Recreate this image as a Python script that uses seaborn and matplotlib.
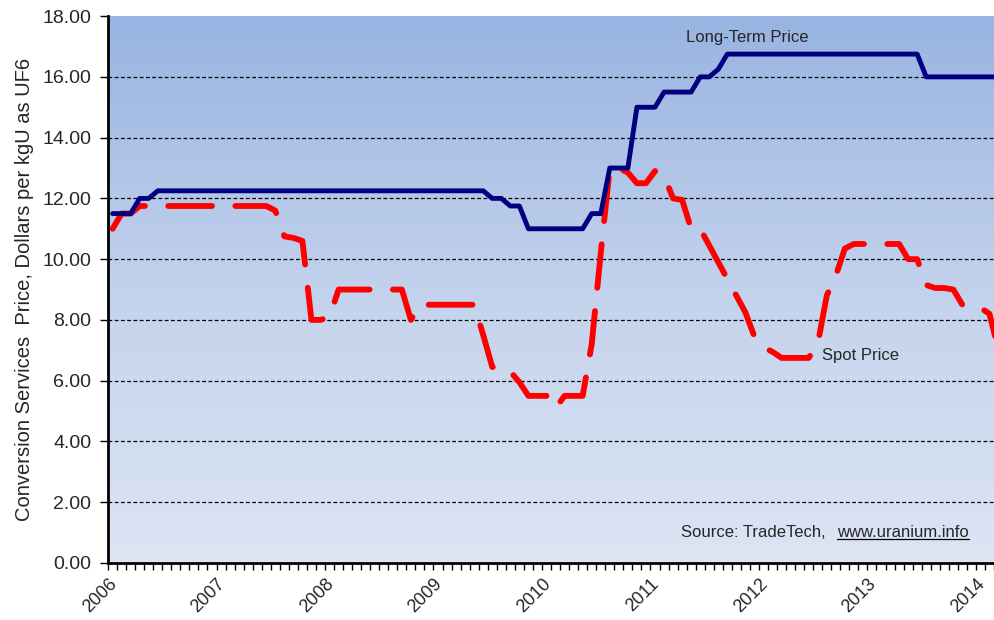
import numpy as np
import pandas as pd
import matplotlib.pyplot as plt
import seaborn as sns

# monthly observations, Jan 2006 .. Mar 2014 (last one runs past the axis edge)
long_term = [11.5, 11.5, 11.5, 12.0, 12.0,
             12.25, 12.25, 12.25, 12.25, 12.25, 12.25, 12.25, 12.25, 12.25, 12.25,
             12.25, 12.25, 12.25, 12.25, 12.25, 12.25, 12.25, 12.25, 12.25, 12.25,
             12.25, 12.25, 12.25, 12.25, 12.25, 12.25, 12.25, 12.25, 12.25, 12.25,
             12.25, 12.25, 12.25, 12.25, 12.25, 12.25, 12.25,
             12.0, 12.0, 11.75, 11.75,
             11.0, 11.0, 11.0, 11.0, 11.0, 11.0, 11.0,
             11.5, 11.5, 13.0, 13.0, 13.0, 15.0, 15.0, 15.0,
             15.5, 15.5, 15.5, 15.5, 16.0, 16.0, 16.25,
             16.75, 16.75, 16.75, 16.75, 16.75, 16.75, 16.75, 16.75, 16.75, 16.75,
             16.75, 16.75, 16.75, 16.75, 16.75, 16.75, 16.75, 16.75, 16.75, 16.75,
             16.75, 16.75,
             16.0, 16.0, 16.0, 16.0, 16.0, 16.0, 16.0, 16.0, 16.0]
spot = [11.0, 11.5, 11.5,
        11.75, 11.75, 11.75, 11.75, 11.75, 11.75, 11.75, 11.75, 11.75, 11.75,
        11.75, 11.75, 11.75, 11.75, 11.75,
        11.6, 10.75, 10.7, 10.6, 8.0, 8.0, 8.1,
        9.0, 9.0, 9.0, 9.0, 9.0, 9.0, 9.0, 9.0,
        8.0, 8.5, 8.5, 8.5, 8.5, 8.5, 8.5, 8.5,
        7.5, 6.45, 6.45, 6.3, 5.95, 5.5, 5.5, 5.5, 5.1, 5.5, 5.5, 5.5,
        7.2, 10.2, 13.0, 13.0, 12.85, 12.5, 12.5, 12.9, 12.75, 12.0, 11.95,
        11.0, 11.0, 10.45, 9.9, 9.35, 8.8, 8.25, 7.45, 7.1, 6.95,
        6.75, 6.75, 6.75, 6.75, 7.2, 8.8, 9.45, 10.35,
        10.5, 10.5, 10.5, 10.5, 10.5, 10.5,
        10.0, 10.0, 9.15, 9.05, 9.05, 9.0, 8.5, 8.45, 8.4, 8.2, 7.0]
years = list(range(2006, 2015))
n_axis_months = 98

months = np.arange(len(spot))
x = 2006 + (months + 0.5) / 12.0
df = pd.DataFrame({'x': x, 'Long-Term Price': long_term, 'Spot Price': spot})

sns.set_style('white')
plt.rcParams['font.family'] = ['Liberation Sans', 'DejaVu Sans']

fig = plt.figure(figsize=(9.94, 6.2), dpi=100)
ax = fig.add_axes([0.1087, 0.092, 0.8913, 0.882])
x_end = 2006 + n_axis_months / 12.0

# gradient background
grad = np.linspace(0, 1, 256).reshape(-1, 1)
cmap = plt.matplotlib.colors.LinearSegmentedColormap.from_list(
    'bg', ['#dde5f4', '#c3d2ec', '#98b4e2'])
ax.imshow(grad, aspect='auto', cmap=cmap, origin='lower',
          extent=[2006, x_end, 0, 18], zorder=0)

for yv in range(2, 18, 2):
    ax.axhline(yv, color='black', lw=0.9, ls=(0, (3, 2)), zorder=1)

sns.lineplot(data=df, x='x', y='Long-Term Price', ax=ax, color='#000080',
             lw=3.5, zorder=3)
sns.lineplot(data=df, x='x', y='Spot Price', ax=ax, color='#ff0000',
             lw=4.2, zorder=2, dashes=False)
spot_line = ax.get_lines()[-1]
spot_line.set_dashes([7.5, 4.0])
spot_line.set_dash_capstyle('round')
spot_line.set_solid_capstyle('round')

ax.set_xlim(2006, x_end)
ax.set_ylim(0, 18)
ax.set_xticks(years)
ax.set_xticklabels([str(y) for y in years], rotation=45, ha='right',
                   rotation_mode='anchor', fontsize=13)
ax.set_xticks(2006 + np.arange(n_axis_months + 1) / 12.0, minor=True)
ax.set_yticks(range(0, 19, 2))
ax.set_yticklabels(['%.2f' % v for v in range(0, 19, 2)], fontsize=14)
ax.tick_params(axis='x', which='both', direction='out', length=5, width=1,
               color='black', bottom=True, pad=4)
ax.tick_params(axis='y', direction='out', length=6, width=1, color='black',
               left=True, pad=6)

ax.set_xlabel('')
ax.set_ylabel('Conversion Services  Price, Dollars per kgU as UF6', fontsize=14.5,
              labelpad=6)

for side in ['top', 'right']:
    ax.spines[side].set_visible(False)
ax.spines['left'].set_linewidth(2)
ax.spines['bottom'].set_linewidth(2)
ax.spines['left'].set_color('black')
ax.spines['bottom'].set_color('black')

ax.text(2011.89, 17.3, 'Long-Term Price', fontsize=12, ha='center', va='center')
ax.text(2012.94, 6.84, 'Spot Price', fontsize=12, ha='center', va='center')
ax.text(2011.285, 0.99, 'Source: TradeTech,', fontsize=12, ha='left', va='center')
url = ax.text(2012.722, 0.99, 'www.uranium.info', fontsize=12, ha='left', va='center')

fig.canvas.draw()
bb = url.get_window_extent().transformed(ax.transData.inverted())
ax.plot([bb.x0, bb.x1], [bb.y0 + 0.05, bb.y0 + 0.05], color='black', lw=0.9)

fig.savefig('out.png', dpi=100)
